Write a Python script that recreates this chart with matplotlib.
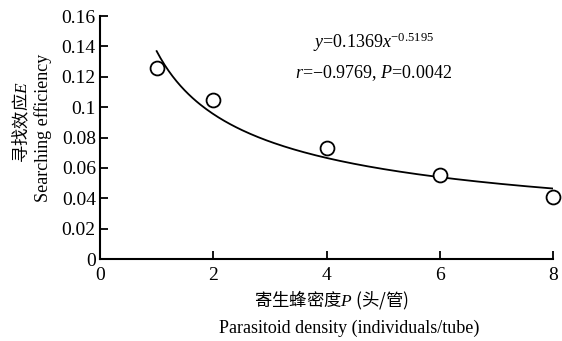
import numpy as np
import matplotlib
matplotlib.use("Agg")
import matplotlib.pyplot as plt

plt.rcParams['font.family'] = ['Liberation Serif', 'DejaVu Serif']
plt.rcParams['mathtext.fontset'] = 'custom'
plt.rcParams['mathtext.rm'] = 'Liberation Serif'
plt.rcParams['mathtext.it'] = 'Liberation Serif:italic'

# observed searching efficiency
density = [1, 2, 4, 6, 8]
efficiency = [0.1255, 0.1045, 0.073, 0.0555, 0.041]

# fitted power curve y = a * x^b (coefficients as printed on the chart)
a_fit = 0.1369
b_fit = -0.5195
fit_range = (1.0, 8.0)

xticks = [0, 2, 4, 6, 8]
yticks = [0, 0.02, 0.04, 0.06, 0.08, 0.1, 0.12, 0.14, 0.16]
ytick_labels = ['0', '0.02', '0.04', '0.06', '0.08', '0.1', '0.12', '0.14', '0.16']

fig = plt.figure(figsize=(5.62, 3.41), dpi=100)
ax = fig.add_axes([0.178, 0.240, 0.806, 0.713])

xx = np.linspace(fit_range[0], fit_range[1], 200)
ax.plot(xx, a_fit * xx ** b_fit, color='black', lw=1.3)
ax.plot(density, efficiency, 'o', ms=10, mfc='white', mec='black', mew=1.3,
        clip_on=False)

ax.set_xlim(0, 8)
ax.set_ylim(0, 0.16)
ax.set_xticks(xticks)
ax.set_yticks(yticks)
ax.set_yticklabels(ytick_labels)
for s in ['top', 'right']:
    ax.spines[s].set_visible(False)
for s in ['left', 'bottom']:
    ax.spines[s].set_linewidth(1.5)
ax.tick_params(direction='in', length=6, width=1.3, labelsize=14)
ax.tick_params(axis='x', pad=6)
ax.tick_params(axis='y', pad=3)

ax.text(0.47, 0.87, r'$y$=0.1369$x^{-0.5195}$', transform=ax.transAxes, fontsize=13)
ax.text(0.43, 0.745, r'$r$=$-$0.9769, $P$=0.0042', transform=ax.transAxes, fontsize=13)

cjk = ['Noto Sans CJK SC', 'DejaVu Sans']
fig.text(331 / 562, 1 - 300 / 341, '寄生蜂密度$P$ (头/管)', family=cjk, fontsize=12.5,
         ha='center', va='center')
fig.text(349 / 562, 1 - 328 / 341, 'Parasitoid density (individuals/tube)', fontsize=13,
         ha='center', va='center')
fig.text(21 / 562, 1 - 122 / 341, '寻找效应$E$', family=cjk, fontsize=12.5,
         rotation=90, ha='center', va='center')
fig.text(43 / 562, 1 - 128 / 341, 'Searching efficiency', fontsize=13,
         rotation=90, ha='center', va='center')

fig.savefig('out.png', dpi=100)
